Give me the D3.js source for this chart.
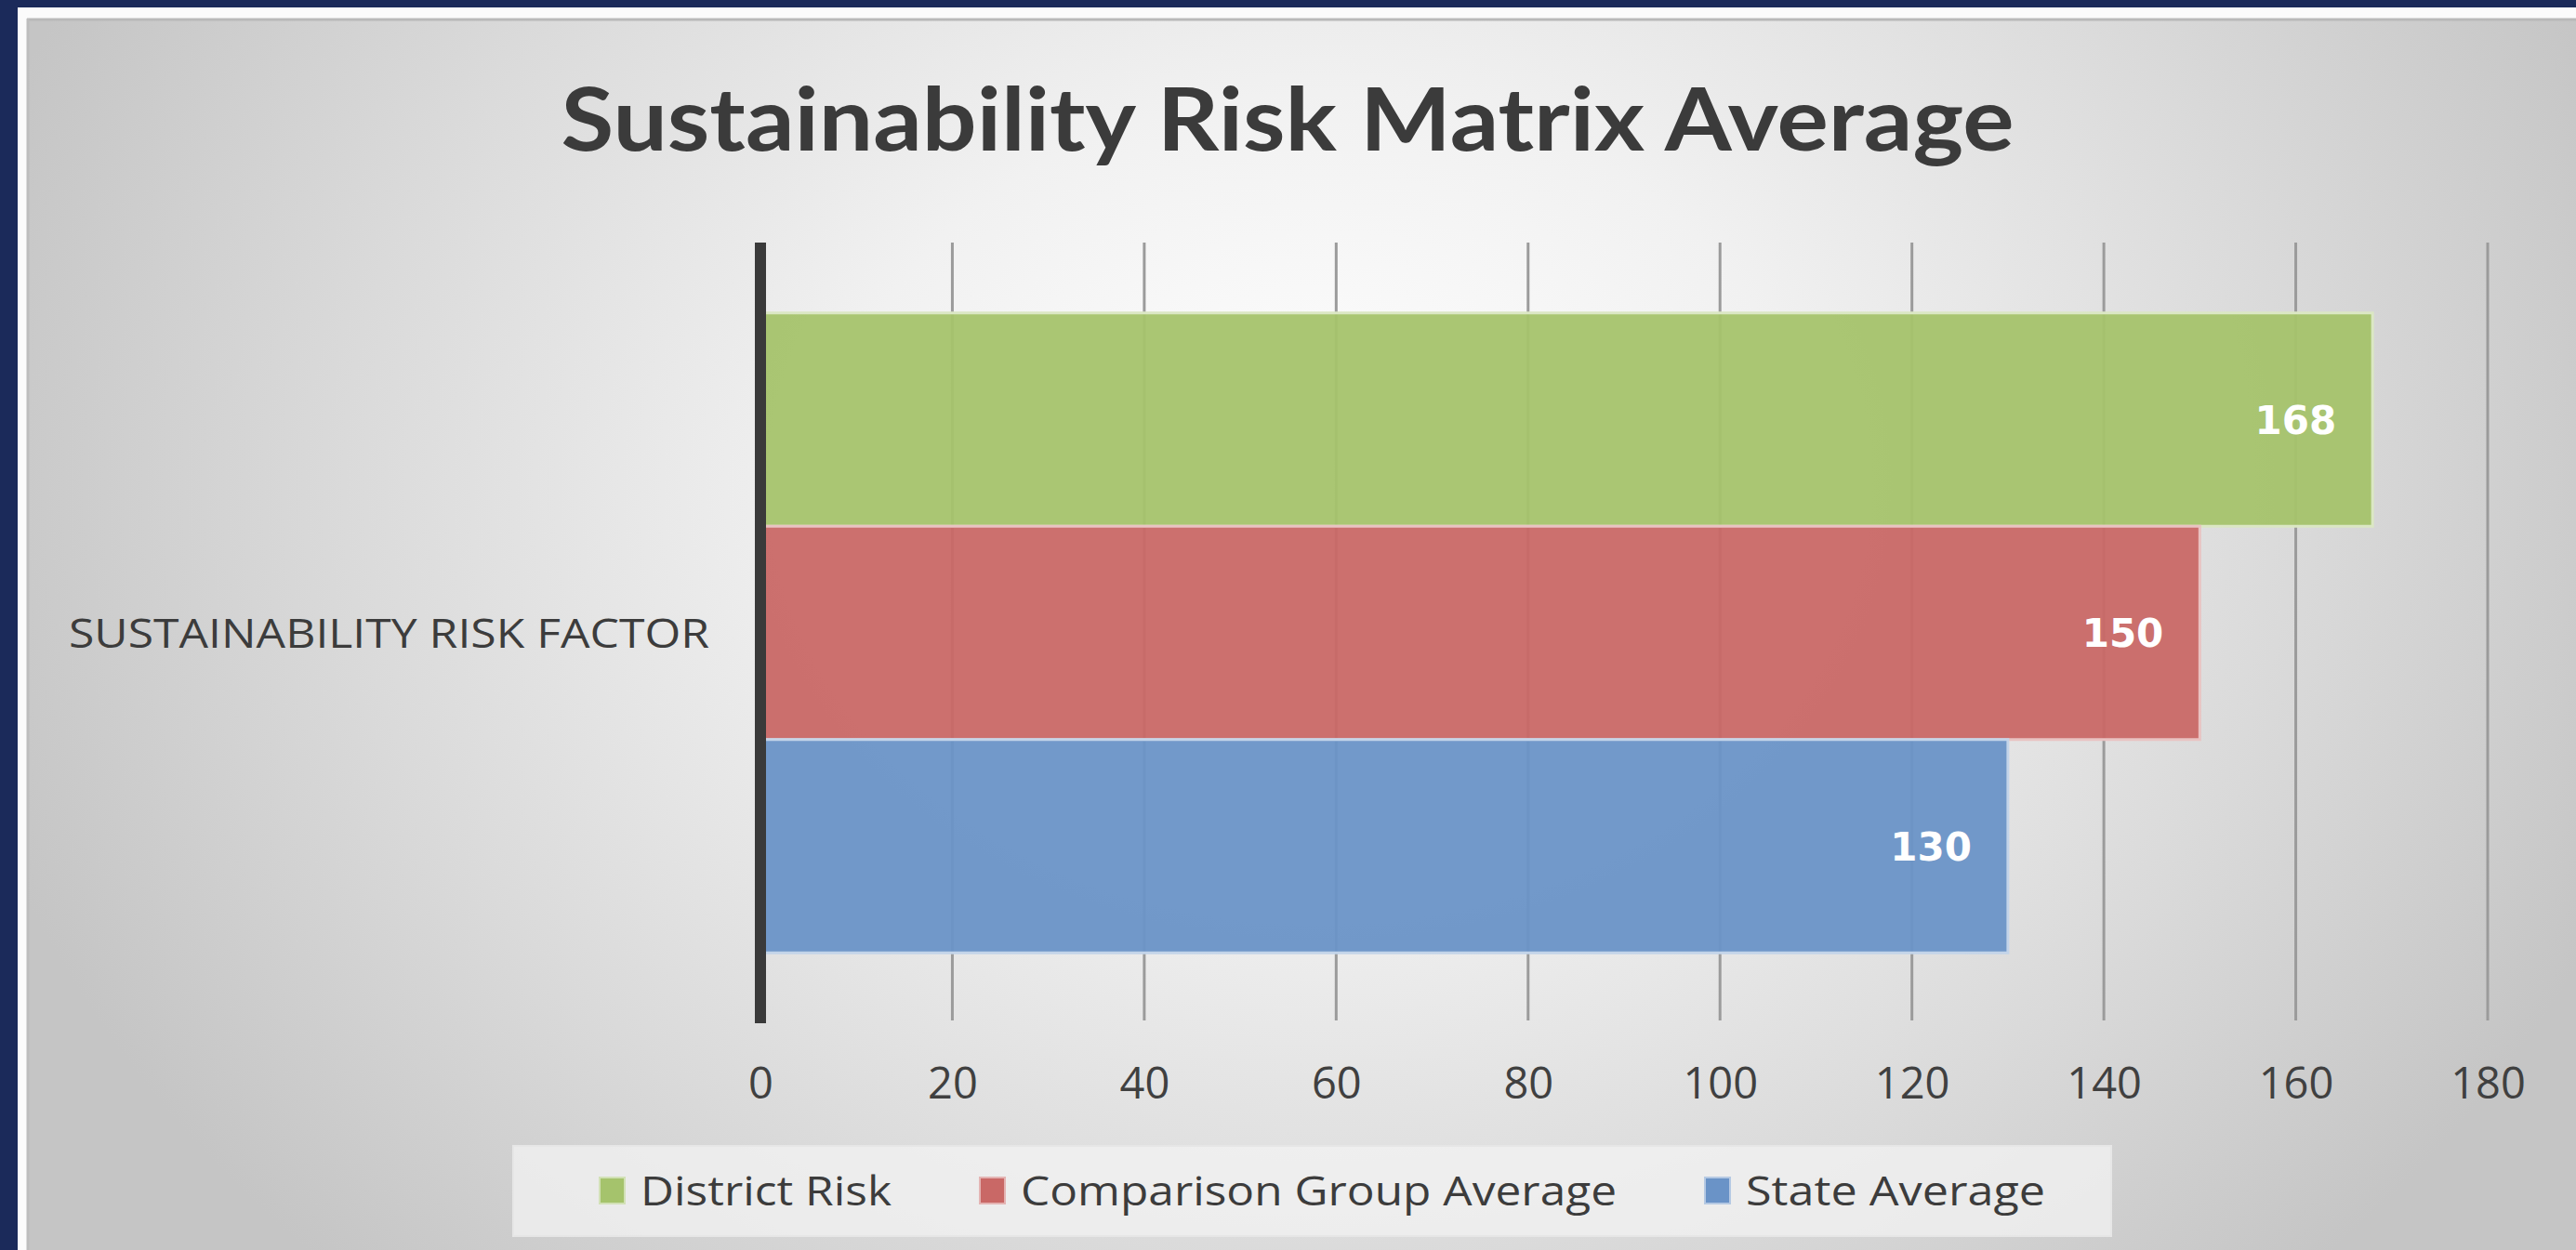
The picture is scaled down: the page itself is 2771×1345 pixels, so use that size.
<!DOCTYPE html>
<html>
<head>
<meta charset="utf-8">
<script src="https://cdn.jsdelivr.net/npm/d3@7"></script>
<style>
  body { margin: 0; background: #1b2a5a; }
  svg { display: block; }
</style>
</head>
<body>
<svg id="chart" width="2771" height="1345"></svg>
<script>
// chart data
var categories = ["SUSTAINABILITY RISK FACTOR"];
var seriesNames = ["District Risk", "Comparison Group Average", "State Average"];
var seriesValues = [168, 150, 130];
var seriesColors = ["#a5c36c", "#c96866", "#6a93c7"];
var xTicks = [0, 20, 40, 60, 80, 100, 120, 140, 160, 180];
var chartTitle = "Sustainability Risk Matrix Average";

var svg = d3.select("#chart"),
    width = +svg.attr("width"),
    height = +svg.attr("height");

var plot = {left: 818, right: 2676, top: 261, bottom: 1101};

// slide frame: navy edge, white strip, grey panel
svg.append("rect").attr("width", width).attr("height", height).attr("fill", "#1b2a5a");
svg.append("rect").attr("x", 19).attr("y", 8).attr("width", width).attr("height", height).attr("fill", "#fbfbfb");

var defs = svg.append("defs");
var bg = defs.append("radialGradient").attr("id", "bg")
    .attr("gradientUnits", "userSpaceOnUse")
    .attr("cx", 1420).attr("cy", 520).attr("r", 1500)
    .attr("gradientTransform", "translate(1420,520) scale(1,0.8) translate(-1420,-520)");
bg.append("stop").attr("offset", 0).attr("stop-color", "#ffffff");
bg.append("stop").attr("offset", 0.35).attr("stop-color", "#f1f1f1");
bg.append("stop").attr("offset", 0.7).attr("stop-color", "#dadada");
bg.append("stop").attr("offset", 1).attr("stop-color", "#c5c5c5");

svg.append("rect").attr("x", 29).attr("y", 20).attr("width", width).attr("height", height)
    .attr("fill", "url(#bg)");
svg.append("line").attr("x1", 29).attr("x2", width).attr("y1", 21).attr("y2", 21)
    .attr("stroke", "#b9b9b9").attr("stroke-width", 3);
svg.append("line").attr("x1", 30).attr("x2", 30).attr("y1", 20).attr("y2", height)
    .attr("stroke", "#bdbdbd").attr("stroke-width", 3);

// scales
var x = d3.scaleLinear().domain([0, 180]).range([plot.left, plot.right]);
var y0 = d3.scaleBand().domain(categories).range([plot.top, plot.bottom])
    .paddingInner(0).paddingOuter(0.11);
var y1 = d3.scaleBand().domain(seriesNames).range([0, y0.bandwidth()]).padding(0);

// title
var title = svg.append("text")
    .attr("x", 1385).attr("y", 162)
    .attr("text-anchor", "middle")
    .attr("font-family", "Lato, 'Open Sans', sans-serif")
    .attr("font-weight", "bold")
    .attr("font-size", 94)
    .attr("fill", "#3b3b3b")
    .text(chartTitle);
title.attr("textLength", 1563).attr("lengthAdjust", "spacingAndGlyphs");

// gridlines
svg.append("g").selectAll("line")
    .data(xTicks.filter(function(d) { return d > 0; }))
    .enter().append("line")
    .attr("x1", function(d) { return x(d); })
    .attr("x2", function(d) { return x(d); })
    .attr("y1", plot.top)
    .attr("y2", plot.bottom - 3)
    .attr("stroke", "#9b9b9b")
    .attr("stroke-width", 3);

// bars
var barGroup = svg.append("g");
categories.forEach(function(cat) {
    var g = barGroup.append("g").attr("transform", "translate(0," + y0(cat) + ")");
    g.selectAll("rect")
        .data(seriesNames)
        .enter().append("rect")
        .attr("x", x(0))
        .attr("y", function(d) { return y1(d); })
        .attr("width", function(d, i) { return x(seriesValues[i]) - x(0); })
        .attr("height", y1.bandwidth())
        .attr("fill", function(d, i) { return seriesColors[i]; })
        .attr("fill-opacity", 0.95)
        .attr("stroke", function(d, i) { return d3.interpolateRgb(seriesColors[i], "#ffffff")(0.6); })
        .attr("stroke-width", 3);

    g.selectAll("text")
        .data(seriesNames)
        .enter().append("text")
        .attr("x", function(d, i) { return x(seriesValues[i]) - 39; })
        .attr("y", function(d) { return y1(d) + y1.bandwidth() / 2; })
        .attr("dy", "0.36em")
        .attr("text-anchor", "end")
        .attr("font-family", "'DejaVu Sans', sans-serif")
        .attr("font-weight", "bold")
        .attr("font-size", 42)
        .attr("fill", "#ffffff")
        .text(function(d, i) { return seriesValues[i]; });

    // category label
    svg.append("text")
        .attr("x", 74)
        .attr("y", y0(cat) + y0.bandwidth() / 2 + 16)
        .attr("font-family", "'Open Sans', sans-serif")
        .attr("font-size", 44)
        .attr("fill", "#3c3c3c")
        .attr("textLength", 689)
        .attr("lengthAdjust", "spacingAndGlyphs")
        .text(cat);
});

// vertical axis line
svg.append("line")
    .attr("x1", x(0)).attr("x2", x(0))
    .attr("y1", plot.top).attr("y2", plot.bottom)
    .attr("stroke", "#3a3a3a")
    .attr("stroke-width", 12);

// x axis labels
var xAxis = d3.axisBottom(x).tickValues(xTicks).tickSize(0).tickPadding(0);
var axisG = svg.append("g").attr("transform", "translate(0,1182)").call(xAxis);
axisG.select(".domain").remove();
axisG.selectAll("text")
    .attr("y", 0).attr("dy", 0)
    .attr("font-family", "'Open Sans', sans-serif")
    .attr("font-size", 47)
    .attr("fill", "#404040");

// legend
svg.append("rect")
    .attr("x", 552).attr("y", 1233).attr("width", 1719).attr("height", 97)
    .attr("fill", "#f3f3f3").attr("fill-opacity", 0.75)
    .attr("stroke", "#e6e6e6").attr("stroke-width", 2);

var legend = svg.append("g");
var lx = 645;
var legendTargets = [270, 641, 322];
seriesNames.forEach(function(name, i) {
    legend.append("rect")
        .attr("x", lx).attr("y", 1267).attr("width", 27).attr("height", 28)
        .attr("fill", seriesColors[i])
        .attr("stroke", d3.interpolateRgb(seriesColors[i], "#ffffff")(0.5)).attr("stroke-width", 2);
    legend.append("text")
        .attr("x", lx + 44).attr("y", 1297)
        .attr("font-family", "'Open Sans', sans-serif")
        .attr("font-size", 44)
        .attr("fill", "#3c3c3c")
        .attr("textLength", legendTargets[i])
        .attr("lengthAdjust", "spacingAndGlyphs")
        .text(name);
    lx = lx + 44 + legendTargets[i] + 95;
});
</script>
</body>
</html>
